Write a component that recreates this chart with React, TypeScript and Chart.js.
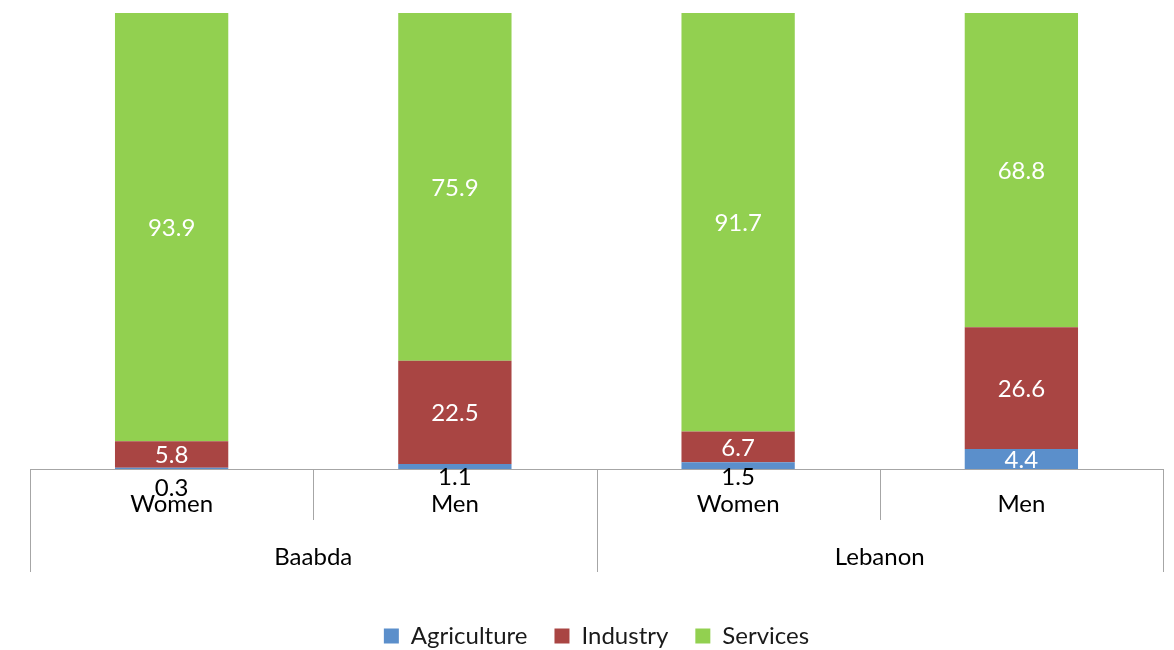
import React, { useEffect, useRef } from 'react';
import { Chart, registerables } from 'chart.js';

Chart.register(...registerables);

const categories = ['Women', 'Men', 'Women', 'Men'];
const groups = ['Baabda', 'Lebanon'];
const seriesNames = ['Agriculture', 'Industry', 'Services'];
const agriculture = [0.3, 1.1, 1.5, 4.4];
const industry = [5.8, 22.5, 6.7, 26.6];
const services = [93.9, 75.9, 91.7, 68.8];

const colors = ['#5b8fcb', '#a94543', '#92d050'];
const FONT = 'Lato';
const FS = 24;

// 100% stacked: each bar's parts are shown as shares of its total
const series = [agriculture, industry, services];
const totals = categories.map((_, i) => series.reduce((s, arr) => s + arr[i], 0));

const labelPlugin = {
  id: 'segLabels',
  afterDatasetsDraw(chart: any) {
    const ctx = chart.ctx;
    ctx.save();
    ctx.font = `${FS}px ${FONT}`;
    ctx.textAlign = 'center';
    chart.data.datasets.forEach((ds: any, di: number) => {
      const meta = chart.getDatasetMeta(di);
      meta.data.forEach((bar: any, i: number) => {
        const v = ds.raw[i];
        const txt = v.toFixed(1);
        if (v < 2) {
          ctx.fillStyle = '#000';
          ctx.textBaseline = 'top';
          ctx.fillText(txt, bar.x, bar.base + (v < 1 ? 7 : -4));
        } else {
          ctx.fillStyle = '#ffffff';
          ctx.textBaseline = 'middle';
          ctx.fillText(txt, bar.x, (bar.y + bar.base) / 2 + 1);
        }
      });
    });
    ctx.restore();
  },
};

const separatorPlugin = {
  id: 'separators',
  afterDraw(chart: any) {
    const x = chart.scales.x;
    const ctx = chart.ctx;
    const n = categories.length;
    const left = chart.chartArea.left;
    const right = chart.chartArea.right;
    const step = (right - left) / n;
    ctx.save();
    ctx.strokeStyle = '#a6a6a6';
    ctx.lineWidth = 1;
    for (let i = 0; i <= n; i++) {
      let xx: number;
      if (i === 0) xx = Math.round(left) + 0.5;
      else if (i === n) xx = Math.round(right) + 0.5;
      else xx = Math.round(x.getPixelForValue(i) - step / 2) + 0.5;
      const outer = i % 2 === 0;
      ctx.beginPath();
      ctx.moveTo(xx, x.top);
      ctx.lineTo(xx, x.top + (outer ? 103 : 51));
      ctx.stroke();
    }
    ctx.restore();
  },
};

export default function App() {
  const ref = useRef<HTMLCanvasElement>(null);
  useEffect(() => {
    document.body.style.margin = '0';
    const chart = new Chart(ref.current as HTMLCanvasElement, {
      type: 'bar',
      data: {
        labels: categories,
        datasets: series.map((d, k) => ({
          label: seriesNames[k],
          data: d.map((v, i) => (v / totals[i]) * 100),
          raw: d,
          backgroundColor: colors[k],
          borderWidth: 0,
          categoryPercentage: 1,
          barPercentage: 0.4,
          xAxisID: 'x',
        })) as any,
      },
      options: {
        responsive: false,
        animation: false,
        layout: { padding: { left: 30, right: 11, top: 13, bottom: -8 } },
        plugins: {
          legend: {
            position: 'bottom',
            labels: {
              boxWidth: 15,
              boxHeight: 15,
              padding: 27,
              color: '#1a1a1a',
              font: { family: FONT, size: FS },
            },
          },
          tooltip: { enabled: false },
        },
        scales: {
          x: {
            stacked: true,
            grid: { display: false, drawTicks: false },
            border: { display: true, color: '#a6a6a6', width: 1 },
            ticks: { padding: 21, color: '#000', font: { family: FONT, size: FS } },
            afterFit: (s: any) => { s.height = 51; },
          },
          x2: {
            type: 'category',
            labels: groups,
            offset: true,
            position: 'bottom',
            grid: { display: false, drawTicks: false },
            border: { display: false },
            ticks: { padding: 23, color: '#000', font: { family: FONT, size: FS } },
            afterFit: (s: any) => { s.height = 77; },
          },
          y: {
            stacked: true,
            display: false,
            min: 0,
            max: 100,
          },
        },
      },
      plugins: [labelPlugin, separatorPlugin],
    });
    return () => chart.destroy();
  }, []);
  return <canvas ref={ref} width={1174} height={650} />;
}
